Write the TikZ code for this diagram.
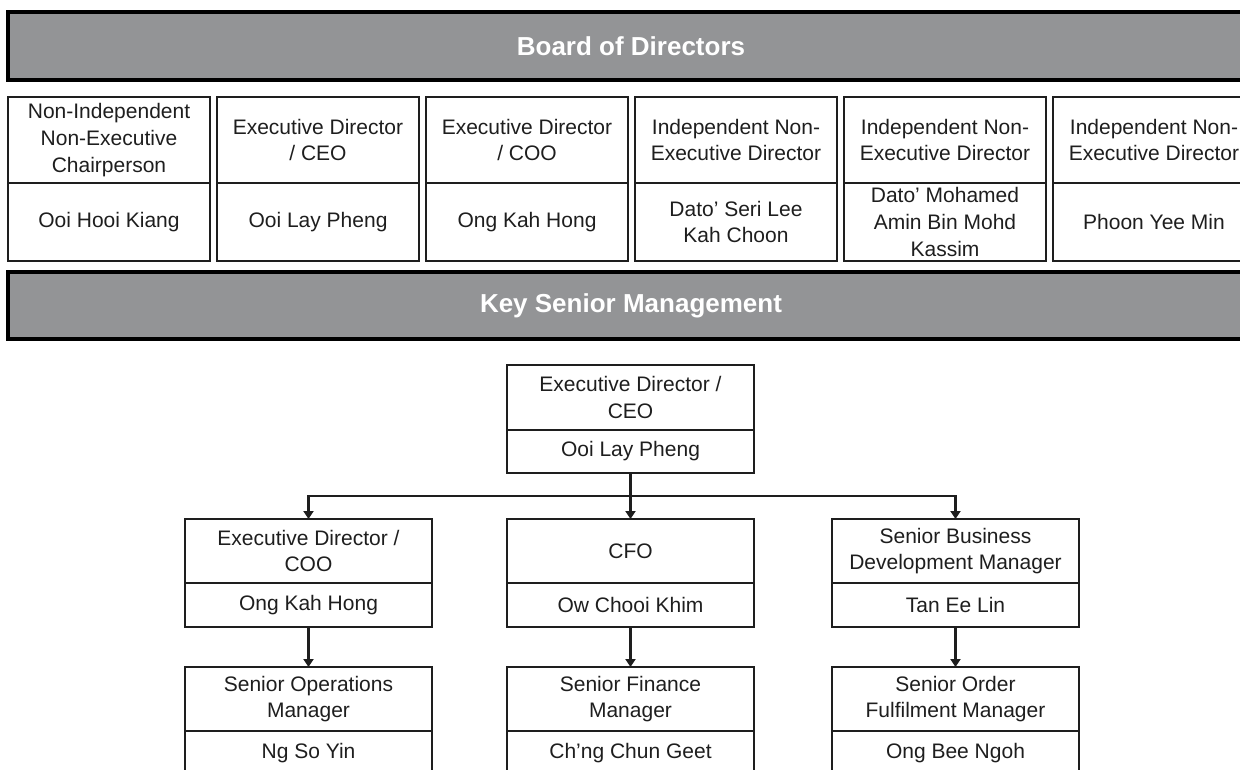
\documentclass[tikz,border=0pt]{standalone}
\usepackage{fontspec}
\setmainfont{Liberation Sans}
\usetikzlibrary{arrows.meta,calc}
\definecolor{bannergrey}{RGB}{147,148,150}
\definecolor{ink}{RGB}{30,30,30}

\begin{document}
\begin{tikzpicture}[x=1pt,y=-1pt,
  txt/.style={font=\fontsize{21}{26.7}\selectfont, text=ink, align=center},
  banner/.style={draw=black, line width=3.2pt, fill=bannergrey, anchor=north west,
    minimum width=1246pt, minimum height=68pt, inner sep=0pt, outer sep=0pt,
    text=white, font=\bfseries\fontsize{26}{30}\selectfont},
  cell/.style={txt, draw=ink, line width=2.2pt, inner sep=0pt, outer sep=0pt},
  brole/.style={cell, anchor=north west, minimum width=202pt, minimum height=86pt},
  bname/.style={cell, anchor=north, minimum width=202pt, minimum height=78pt},
  krole/.style={cell, anchor=north west, minimum width=247pt, minimum height=64pt},
  kname/.style={cell, anchor=north, minimum width=247pt, minimum height=44pt},
  link/.style={draw=ink, line width=2.2pt, -{Triangle[width=10pt,length=8pt]}},
]
\path[use as bounding box] (0,0) rectangle (1240,769);
\clip (0,0) rectangle (1240,769);

% section banners
\node[banner] (bod) at (8,12) {Board of Directors};
\node[banner, minimum height=67pt] (ksm) at (8,272) {Key Senior Management};

% board members: role above, name below
\node[brole] (b1r) at (8,97) {Non-Independent\\Non-Executive\\Chairperson};
\node[bname] (b1n) at (b1r.south) {Ooi Hooi Kiang};
\node[brole] (b2r) at (217,97) {Executive Director\\/ CEO};
\node[bname] (b2n) at (b2r.south) {Ooi Lay Pheng};
\node[brole] (b3r) at (426,97) {Executive Director\\/ COO};
\node[bname] (b3n) at (b3r.south) {Ong Kah Hong};
\node[brole] (b4r) at (635,97) {Independent Non-\\Executive Director};
\node[bname] (b4n) at (b4r.south) {Dato' Seri Lee\\Kah Choon};
\node[brole] (b5r) at (844,97) {Independent Non-\\Executive Director};
\node[bname] (b5n) at (b5r.south) {Dato' Mohamed\\Amin Bin Mohd\\Kassim};
\node[brole] (b6r) at (1053,97) {Independent Non-\\Executive Director};
\node[bname] (b6n) at (b6r.south) {Phoon Yee Min};

% key senior management chart
\node[krole, minimum height=65pt] (ceoR) at (507,365) {Executive Director /\\CEO};
\node[kname, minimum height=43pt] (ceoN) at (ceoR.south) {Ooi Lay Pheng};

\node[krole] (cooR) at (185,519) {Executive Director /\\COO};
\node[kname] (cooN) at (cooR.south) {Ong Kah Hong};
\node[krole] (cfoR) at (507,519) {CFO};
\node[kname] (cfoN) at (cfoR.south) {Ow Chooi Khim};
\node[krole] (sbdR) at (832,519) {Senior Business\\Development Manager};
\node[kname] (sbdN) at (sbdR.south) {Tan Ee Lin};

\node[krole] (opsR) at (185,667) {Senior Operations\\Manager};
\node[kname] (opsN) at (opsR.south) {Ng So Yin};
\node[krole] (sfmR) at (507,667) {Senior Finance\\Manager};
\node[kname] (sfmN) at (sfmR.south) {Ch'ng Chun Geet};
\node[krole] (sofR) at (832,667) {Senior Order\\Fulfilment Manager};
\node[kname] (sofN) at (sofR.south) {Ong Bee Ngoh};

% reporting lines
\coordinate (bus) at ($(ceoN.south)!0.5!(cfoR.north)$);
\draw[link] (ceoN.south) -- (cfoR.north);
\draw[link] (bus) -| (cooR.north);
\draw[link] (bus) -| (sbdR.north);
\draw[link] (cooN.south) -- (opsR.north);
\draw[link] (cfoN.south) -- (sfmR.north);
\draw[link] (sbdN.south) -- (sofR.north);
\end{tikzpicture}
\end{document}
